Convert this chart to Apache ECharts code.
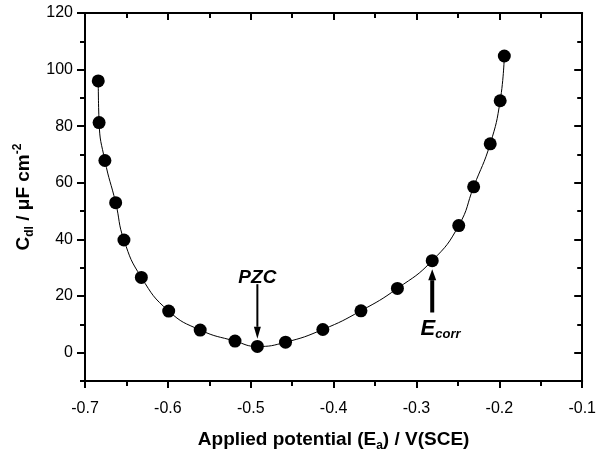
<!DOCTYPE html>
<html><head><meta charset="utf-8">
<script src="https://cdn.jsdelivr.net/npm/echarts@6/dist/echarts.min.js"></script>
<style>html,body{margin:0;padding:0;background:#fff}#c{width:599px;height:457px}</style>
</head><body><div id="c"></div>
<script>
// Data
const potential = [-0.684,-0.683,-0.676,-0.663,-0.653,-0.632,-0.599,-0.561,-0.519,-0.492,-0.458,-0.413,-0.367,-0.323,-0.281,-0.249,-0.231,-0.211,-0.199,-0.194];
const cdl = [96,81.3,67.9,53,39.8,26.6,14.7,8,4.1,2.2,3.7,8.2,14.8,22.7,32.5,44.9,58.6,73.8,89,104.8];
const yMajorTicks = [0,20,40,60,80,100,120];
const yMinorTicks = [-10,10,30,50,70,90,110];
const xTickLabels = ['-0.7','-0.6','-0.5','-0.4','-0.3','-0.2','-0.1'];
// annotations: [x, yStart, yEnd]
const pzcArrow = [-0.492, 24.2, 4.9];
const pzcLabel = [-0.492, 26.6];
const ecorrArrow = [-0.281, 14.2, 29.5];
const ecorrLabel = [-0.295, 8.4];

const FONT = 'Liberation Sans, Arial, sans-serif';
const chart = echarts.init(document.getElementById('c'));
const data = potential.map((x,i)=>[x,cdl[i]]);

function xAxisBase(pos){
  return {type:'value', position:pos, min:-0.7, max:-0.1, interval:0.1,
    axisLine:{show:true, onZero:false, lineStyle:{color:'#000', width:2}},
    splitLine:{show:false}};
}
function yAxisBase(pos){
  return {type:'value', position:pos, min:-10, max:120,
    axisLine:{show:true, onZero:false, lineStyle:{color:'#000', width:2}},
    splitLine:{show:false}};
}

const option = {
  animation:false,
  backgroundColor:'#fff',
  grid:{left:85, right:15, top:13, bottom:71, containLabel:false},
  xAxis:[
    Object.assign(xAxisBase('bottom'),{
      name:'Applied potential (E{s|a}) / V(SCE)', nameLocation:'middle', nameGap:47,
      nameTextStyle:{fontFamily:FONT, fontWeight:'bold', fontSize:19, color:'#000', lineHeight:24,
        rich:{s:{fontFamily:FONT, fontWeight:'bold', fontSize:12, color:'#000', verticalAlign:'bottom', lineHeight:6}}},
      axisTick:{show:true, inside:false, length:7, lineStyle:{color:'#000', width:2}},
      minorTick:{show:true, splitNumber:2, length:5, lineStyle:{color:'#000', width:2}},
      axisLabel:{show:true, margin:20, fontFamily:FONT, fontSize:16, color:'#000',
        formatter:(v)=>{const i=Math.round((v+0.7)/0.1); return xTickLabels[i]||'';}}
    }),
    Object.assign(xAxisBase('top'),{
      axisTick:{show:true, inside:true, length:7, lineStyle:{color:'#000', width:2}},
      minorTick:{show:true, splitNumber:2, length:5, lineStyle:{color:'#000', width:2}},
      axisLabel:{show:false}
    })
  ],
  yAxis:[
    Object.assign(yAxisBase('left'),{
      name:'C{s|dl} / μF cm{p|-2}', nameLocation:'middle', nameGap:48, nameRotate:90,
      nameTextStyle:{fontFamily:FONT, fontWeight:'bold', fontSize:19, color:'#000', lineHeight:24,
        rich:{s:{fontFamily:FONT, fontWeight:'bold', fontSize:12, color:'#000', verticalAlign:'bottom', lineHeight:6},
              p:{fontFamily:FONT, fontWeight:'bold', fontSize:12, color:'#000', verticalAlign:'top', lineHeight:6}}},
      axisTick:{show:true, inside:false, length:8, customValues:yMajorTicks, lineStyle:{color:'#000', width:2}},
      axisLabel:{show:true, margin:12, fontFamily:FONT, fontSize:16, color:'#000', customValues:yMajorTicks}
    }),
    Object.assign(yAxisBase('left'),{
      axisLine:{show:false},
      axisTick:{show:true, inside:false, length:5, customValues:yMinorTicks, lineStyle:{color:'#000', width:2}},
      axisLabel:{show:false, customValues:yMinorTicks}
    }),
    Object.assign(yAxisBase('right'),{
      axisTick:{show:true, inside:true, length:8, customValues:yMajorTicks, lineStyle:{color:'#000', width:2}},
      axisLabel:{show:false, customValues:yMajorTicks}
    }),
    Object.assign(yAxisBase('right'),{
      axisLine:{show:false},
      axisTick:{show:true, inside:true, length:5, customValues:yMinorTicks, lineStyle:{color:'#000', width:2}},
      axisLabel:{show:false, customValues:yMinorTicks}
    })
  ],
  series:[{
    type:'line', data:data, xAxisIndex:0, yAxisIndex:0,
    smooth:0.5,
    symbol:'circle', symbolSize:13,
    itemStyle:{color:'#000'},
    lineStyle:{color:'#000', width:1}
  }]
};
chart.setOption(option);

function px(x,y){ return chart.convertToPixel({xAxisIndex:0,yAxisIndex:0},[x,y]); }
function arrow(spec, stemW, headW, headL){
  const a = px(spec[0], spec[1]);
  const b = px(spec[0], spec[2]);
  const dir = b[1] > a[1] ? 1 : -1;
  const base = b[1] - dir*headL;
  return [
    {type:'line', shape:{x1:a[0], y1:a[1], x2:b[0], y2:base}, style:{stroke:'#000', lineWidth:stemW}, silent:true},
    {type:'polygon', shape:{points:[[b[0],b[1]],[b[0]-headW/2,base],[b[0]+headW/2,base]]}, style:{fill:'#000'}, silent:true}
  ];
}
const pz = px(pzcLabel[0], pzcLabel[1]);
const ec = px(ecorrLabel[0], ecorrLabel[1]);
const graphics = [].concat(
  arrow(pzcArrow, 2, 7, 12),
  arrow(ecorrArrow, 4, 8, 11),
  [
    {type:'text', x:pz[0], y:pz[1], silent:true,
      style:{text:'PZC', fontFamily:FONT, fontWeight:'bold', fontStyle:'italic', fontSize:19, fill:'#000', align:'center', verticalAlign:'middle'}},
    {type:'text', x:ec[0], y:ec[1], silent:true,
      style:{text:'{e|E}{s|corr}', align:'left', verticalAlign:'middle',
        rich:{e:{fontFamily:FONT, fontWeight:'bold', fontStyle:'italic', fontSize:22, fill:'#000', lineHeight:24},
              s:{fontFamily:FONT, fontWeight:'bold', fontStyle:'italic', fontSize:13, fill:'#000', verticalAlign:'bottom', lineHeight:4}}}}
  ]
);
chart.setOption({graphic:graphics});
</script>
</body></html>
